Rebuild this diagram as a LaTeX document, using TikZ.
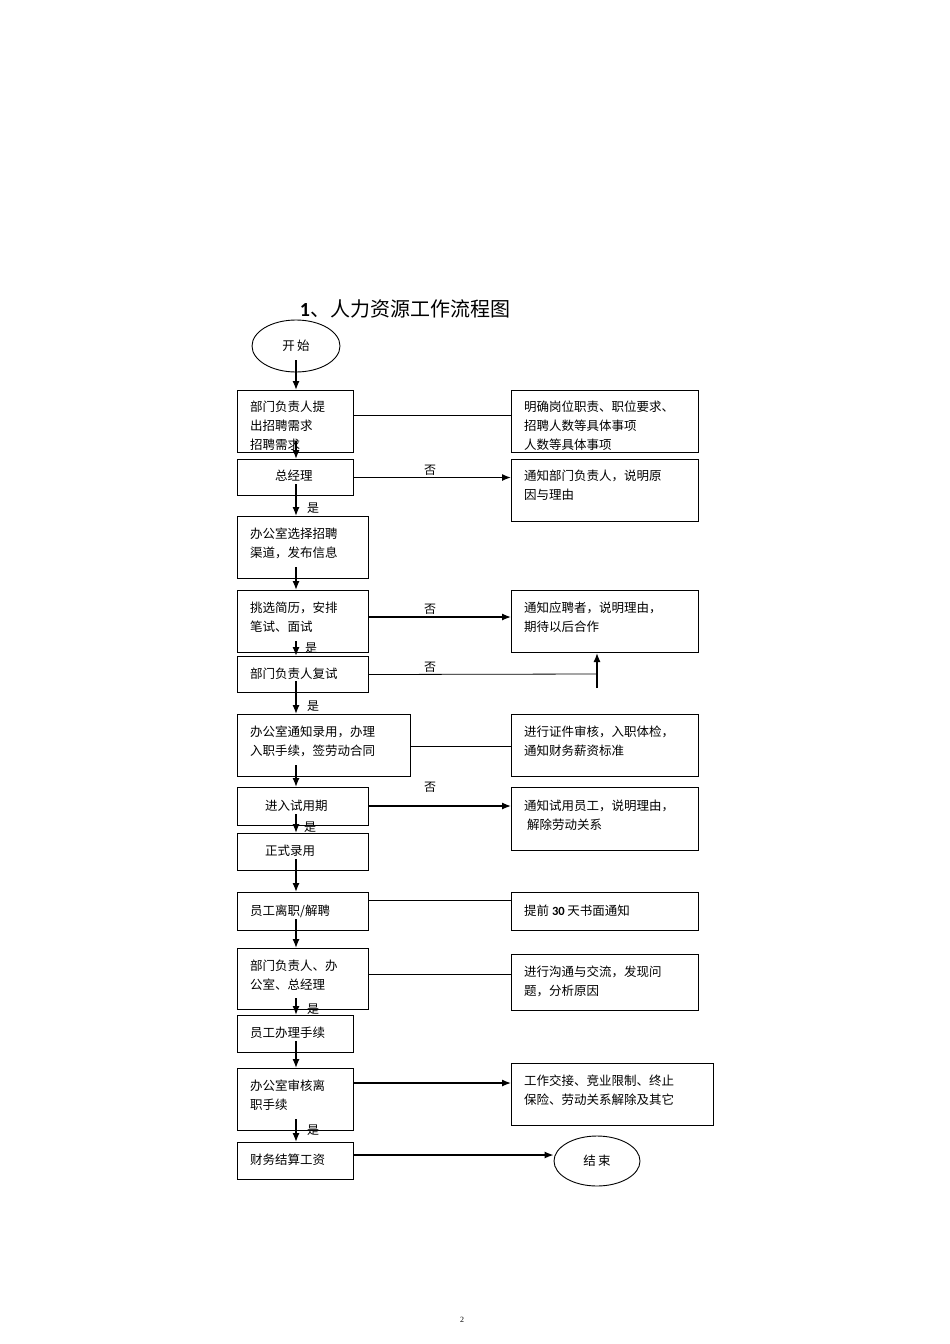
\documentclass[tikz,border=0pt]{standalone}
\usepackage{fontspec}
\setmainfont{Liberation Serif}
\newfontfamily\cjk{Noto Sans CJK SC}
\newfontfamily\calib{Carlito}
\usetikzlibrary{arrows.meta,shapes.geometric}
\begin{document}
\begin{tikzpicture}[x=1pt,y=-1pt,
 ar/.style={-{Latex[length=9pt,width=7pt]},line width=1.3pt},
 ln/.style={line width=0.8pt},
 lb/.style={font=\cjk\fontsize{12}{14}\selectfont,inner sep=0pt}]
\useasboundingbox (0,0) rectangle (950,1344);
\newcommand\bb[5]{\node[draw,line width=1pt,minimum width=#3-#2,minimum height=#5-#4,inner sep=0pt,anchor=north west] (#1) at (#2,#4) {};}
\newcommand\tx[4]{\node[anchor=north west,align=left,inner sep=0pt,font=\cjk\fontsize{12.5}{19}\selectfont] (#1) at (#2,#3) {#4};}
\node[font=\cjk\fontsize{20}{24}\selectfont] (title) at (405,309) {{\bfseries\calib 1}、人力资源工作流程图};
\node[draw,ellipse,line width=0.9pt,minimum width=88,minimum height=52,font=\cjk\fontsize{12.5}{15}\selectfont] (st) at (296,346) {开\,始};
\node[draw,ellipse,line width=0.9pt,minimum width=86,minimum height=50,font=\cjk\fontsize{12.5}{15}\selectfont] (en) at (597,1161) {结\,束};
\bb{b1}{237}{353}{390}{452}
\bb{b2}{237}{353}{459}{495}
\bb{b3}{237}{368}{516}{578}
\bb{b4}{237}{368}{590}{652}
\bb{b5}{237}{368}{656}{692}
\bb{b6}{237}{410}{714}{776}
\bb{b7}{237}{368}{787}{825}
\bb{b8}{237}{368}{833}{870}
\bb{b9}{237}{368}{892}{930}
\bb{b10}{237}{368}{948}{1009}
\bb{b11}{237}{353}{1015}{1052}
\bb{b12}{237}{353}{1068}{1130}
\bb{b13}{237}{353}{1142}{1179}
\bb{r1}{511}{698}{390}{452}
\bb{r2}{511}{698}{459}{521}
\bb{r3}{511}{698}{590}{652}
\bb{r4}{511}{698}{714}{776}
\bb{r5}{511}{698}{787}{850}
\bb{r6}{511}{698}{892}{930}
\bb{r7}{511}{698}{954}{1010}
\bb{r8}{511}{713}{1063}{1125}
\tx{t1}{250}{401}{部门负责人提\\出招聘需求\\招聘需求}
\tx{t2}{275}{470}{总经理}
\tx{t3}{250}{528}{办公室选择招聘\\渠道，发布信息}
\tx{t4}{250}{602}{挑选简历，安排\\笔试、面试}
\tx{t5}{250}{668}{部门负责人复试}
\tx{t6}{250}{726}{办公室通知录用，办理\\入职手续，签劳动合同}
\tx{t7}{265}{800}{进入试用期}
\tx{t8}{265}{845}{正式录用}
\tx{t9}{250}{905}{员工离职/解聘}
\tx{t10}{250}{960}{部门负责人、办\\公室、总经理}
\tx{t11}{250}{1027}{员工办理手续}
\tx{t12}{250}{1080}{办公室审核离\\职手续}
\tx{t13}{250}{1154}{财务结算工资}
\tx{s1}{524}{401}{明确岗位职责、职位要求、\\招聘人数等具体事项\\人数等具体事项}
\tx{s2}{524}{470}{通知部门负责人，说明原\\因与理由}
\tx{s3}{524}{602}{通知应聘者，说明理由，\\期待以后合作}
\tx{s4}{524}{726}{进行证件审核，入职体检，\\通知财务薪资标准}
\tx{s5}{524}{800}{通知试用员工，说明理由，\\\ 解除劳动关系}
\tx{s6}{524}{905}{提前 {\calib\bfseries 30} 天书面通知}
\tx{s7}{524}{966}{进行沟通与交流，发现问\\题，分析原因}
\tx{s8}{524}{1075}{工作交接、竞业限制、终止\\保险、劳动关系解除及其它}
\foreach \a/\b in {st/b1,b1/b2,b2/b3,b3/b4,b4/b5,b5/b6,b6/b7,b7/b8,b8/b9,b9/b10,b10/b11,b11/b12,b12/b13}
  \draw[ar] (\a.south -| 296,0) ++(0,-12) -- (\b.north -| 296,0) ;
\draw[ln] (353,415) -- (r1.west |- 0,415);
\draw[ar] (b2.east) -- (r2.west |- b2.east);
\draw[ar] (368,617) -- (r3.west |- 0,617);
\coordinate (c5) at (597,674);
\coordinate (c5b) at (597,688);
\draw[ln] (b5.east) -- (c5);
\draw[ar] (c5b) -- (r3.south -| c5);
\draw[ln] (410,746) -- (r4.west |- 0,746);
\draw[ar] (368,806) -- (r5.west |- 0,806);
\draw[ln] (368,900) -- (r6.west |- 0,900);
\draw[ln] (368,974) -- (r7.west |- 0,974);
\draw[ar] (353,1083) -- (r8.west |- 0,1083);
\draw[ar] (353,1155) -- (en.west |- 0,1155);
\foreach \p/\t in {{(430,470)}/否,{(430,609)}/否,{(430,667)}/否,{(430,787)}/否,
  {(313,508)}/是,{(311,648)}/是,{(313,706)}/是,{(310,827)}/是,{(313,1009)}/是,{(313,1130)}/是}
  \node[lb] at \p {\t};
\node[font=\rmfamily\fontsize{8}{9}\selectfont] (pg) at (462,1320) {2};
\end{tikzpicture}
\end{document}
